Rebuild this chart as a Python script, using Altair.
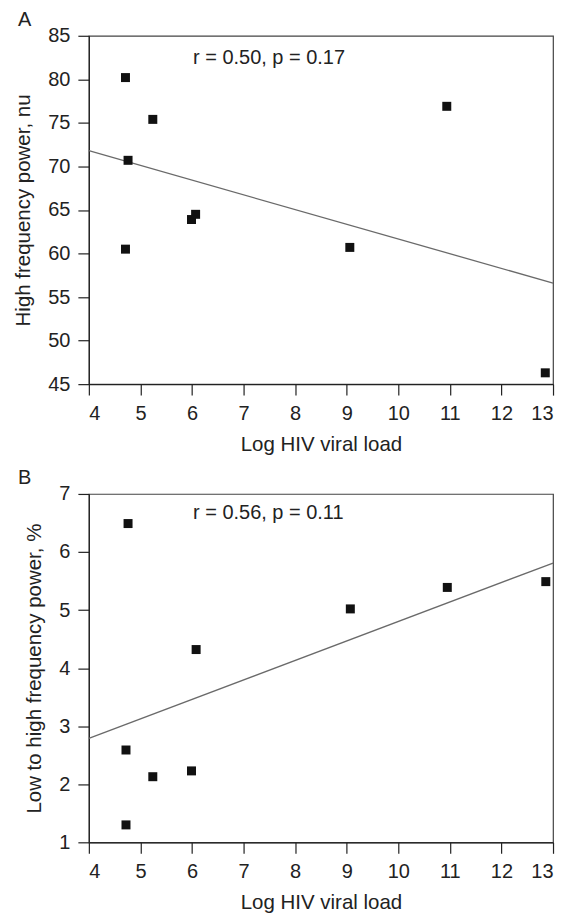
import altair as alt
import pandas as pd

FONT = "Liberation Sans"

# Panel A: high frequency power (nu) vs log HIV viral load
load_a = [4.71, 5.24, 4.76, 4.71, 5.99, 6.07, 9.06, 12.85, 10.94]
hf_a = [80.2, 75.4, 70.7, 60.5, 63.9, 64.5, 60.7, 46.3, 76.9]
fit_a_x = [4, 13]
fit_a_y = [71.8, 56.6]
ann_a = "r = 0.50, p = 0.17"

# Panel B: low to high frequency power (%) vs log HIV viral load
load_b = [4.76, 6.08, 9.07, 10.95, 12.86, 4.72, 5.24, 5.99, 4.72]
lfhf_b = [6.49, 4.32, 5.02, 5.39, 5.49, 2.59, 2.13, 2.23, 1.30]
fit_b_x = [4, 13]
fit_b_y = [2.79, 5.81]
ann_b = "r = 0.56, p = 0.11"

x_ticks = list(range(4, 14))
y_ticks_a = [45, 50, 55, 60, 65, 70, 75, 80, 85]
y_ticks_b = [1, 2, 3, 4, 5, 6, 7]


def panel(xs, ys, fx, fy, ann, ann_x, ann_y, ydom, yticks, ytitle, letter):
    pts = pd.DataFrame({"x": xs, "y": ys})
    fit = pd.DataFrame({"x": fx, "y": fy})
    note = pd.DataFrame({"x": [ann_x], "y": [ann_y], "label": [ann]})
    xenc = alt.X(
        "x:Q",
        scale=alt.Scale(domain=[4, 13], nice=False, zero=False),
        axis=alt.Axis(values=x_ticks, title="Log HIV viral load", format="d"),
    )
    yenc = alt.Y(
        "y:Q",
        scale=alt.Scale(domain=ydom, nice=False, zero=False),
        axis=alt.Axis(values=yticks, title=ytitle, format="d"),
    )
    line = alt.Chart(fit).mark_line(color="#6a6a6a", strokeWidth=1.3).encode(x=xenc, y=yenc)
    dots = alt.Chart(pts).mark_square(size=81, color="#111111", opacity=1).encode(x="x:Q", y="y:Q")
    text = alt.Chart(note).mark_text(
        align="left", baseline="middle", fontSize=20, font=FONT, color="#222222"
    ).encode(x="x:Q", y="y:Q", text="label:N")
    return alt.layer(line, dots, text).properties(
        width=465,
        height=349,
        title=alt.TitleParams(
            letter, anchor="start", frame="group", dx=-71, offset=-4,
            fontSize=20, font=FONT, fontWeight="normal", color="#222222",
        ),
    )


a = panel(load_a, hf_a, fit_a_x, fit_a_y, ann_a, 6.02, 82.5, [45, 85], y_ticks_a,
          "High frequency power, nu", "A")
b = panel(load_b, lfhf_b, fit_b_x, fit_b_y, ann_b, 6.02, 6.68, [1, 7], y_ticks_b,
          "Low to high frequency power, %", "B")

chart = alt.vconcat(a, b, spacing=11).properties(
    padding={"left": 5, "top": 0, "right": 5, "bottom": 5}
).configure_view(
    stroke="#444444", strokeWidth=1.2
).configure_axis(
    grid=False,
    labelFont=FONT, titleFont=FONT,
    labelFontSize=20, titleFontSize=20.5,
    labelColor="#222222", titleColor="#222222",
    titleFontWeight="normal",
    domainColor="#222222", tickColor="#222222",
    domainWidth=1.2, tickWidth=1.2, tickSize=11,
    labelPadding=8,
).configure_axisX(
    titlePadding=11,
).configure_axisY(
    titlePadding=14,
)

chart.save("out.html", embed_options={"renderer": "svg", "actions": False})
